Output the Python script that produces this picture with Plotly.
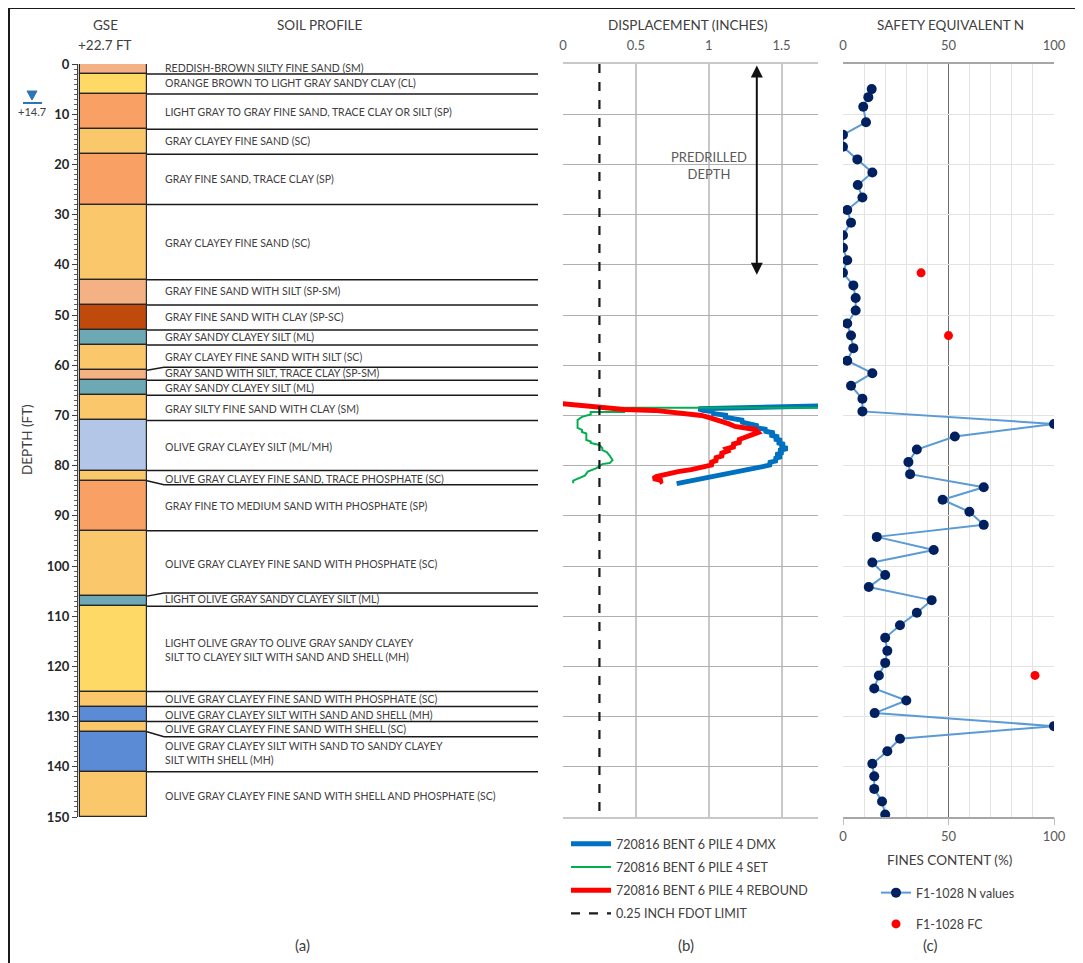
import plotly.graph_objects as go

# page body has an 8px margin: the figure is sized so that reference pixel coords map directly
OFF = 8
W, H = 1083 - OFF, 963 - OFF
def px(x): return (x - OFF) / W
def py(y): return 1 - (y - OFF) / H

# ---------------- DATA ----------------
layer_tops = [0, 2, 6, 13, 18, 28, 43, 48, 53, 56, 61, 63, 66, 71, 81, 83, 93, 106, 108, 125, 128, 131, 133, 141]
layer_bottoms = layer_tops[1:] + [150]
layer_colors = ["#F4B183", "#FFD966", "#F9A065", "#FAC76B", "#F9A065", "#FAC76B", "#F4B183", "#C04A0C",
                "#6DA9B5", "#FAC76B", "#F4B183", "#6DA9B5", "#FAC76B", "#B4C6E7", "#FAC76B", "#F9A065",
                "#FAC76B", "#6DA9B5", "#FFD966", "#FAC76B", "#5B8BD5", "#FAC76B", "#5B8BD5", "#FAC76B"]
line_depths = [2, 6, 13, 18, 28, 43, 48, 53, 56, 60.4, 63, 66, 71, 81, 83.8, 93, 105.4, 108, 125, 128, 131, 134, 141]
layer_labels = [
    "REDDISH-BROWN SILTY FINE SAND (SM)",
    "ORANGE BROWN TO LIGHT GRAY SANDY CLAY (CL)",
    "LIGHT GRAY TO GRAY FINE SAND, TRACE CLAY OR SILT (SP)",
    "GRAY CLAYEY FINE SAND (SC)",
    "GRAY FINE SAND, TRACE CLAY (SP)",
    "GRAY CLAYEY FINE SAND (SC)",
    "GRAY FINE SAND WITH SILT (SP-SM)",
    "GRAY FINE SAND WITH CLAY (SP-SC)",
    "GRAY SANDY CLAYEY SILT (ML)",
    "GRAY CLAYEY FINE SAND WITH SILT (SC)",
    "GRAY SAND WITH SILT, TRACE CLAY (SP-SM)",
    "GRAY SANDY CLAYEY SILT (ML)",
    "GRAY SILTY FINE SAND WITH CLAY (SM)",
    "OLIVE GRAY CLAYEY SILT (ML/MH)",
    "OLIVE GRAY CLAYEY FINE SAND, TRACE PHOSPHATE (SC)",
    "GRAY FINE TO MEDIUM SAND WITH PHOSPHATE (SP)",
    "OLIVE GRAY CLAYEY FINE SAND WITH PHOSPHATE (SC)",
    "LIGHT OLIVE GRAY SANDY CLAYEY SILT (ML)",
    "LIGHT OLIVE GRAY TO OLIVE GRAY SANDY CLAYEY<br>SILT TO CLAYEY SILT WITH SAND AND SHELL (MH)",
    "OLIVE GRAY CLAYEY FINE SAND WITH PHOSPHATE (SC)",
    "OLIVE GRAY CLAYEY SILT WITH SAND AND SHELL (MH)",
    "OLIVE GRAY CLAYEY FINE SAND WITH SHELL (SC)",
    "OLIVE GRAY CLAYEY SILT WITH SAND TO SANDY CLAYEY<br>SILT WITH SHELL (MH)",
    "OLIVE GRAY CLAYEY FINE SAND WITH SHELL AND PHOSPHATE (SC)",
]
label_depths = [0.8, 3.8, 9.6, 15.4, 22.9, 35.7, 45.2, 50.4, 54.4, 58.4, 61.5, 64.5, 68.7, 76.3, 82.7,
                88.0, 99.6, 106.6, 116.7, 126.5, 129.7, 132.5, 137.3, 145.8]

dmx_disp = [1.80, 1.20, 0.93, 0.96, 1.04, 1.02, 1.13, 1.10, 1.20, 1.24, 1.22, 1.30, 1.34, 1.31, 1.40, 1.38,
            1.45, 1.42, 1.48, 1.45, 1.50, 1.47, 1.52, 1.49, 1.54, 1.48, 1.51, 1.46, 1.50, 1.45, 1.47, 1.41,
            1.43, 1.37, 1.30, 1.22, 1.15, 1.08, 1.00, 0.93, 0.86, 0.80, 0.78]
dmx_depth = [68.1, 68.4, 68.7, 69.0, 69.3, 69.6, 70.0, 70.3, 70.7, 71.0, 71.3, 71.7, 72.1, 72.4, 72.8, 73.1,
             73.5, 73.9, 74.3, 74.7, 75.0, 75.4, 75.8, 76.2, 76.6, 77.0, 77.4, 77.8, 78.2, 78.6, 79.0, 79.4,
             79.8, 80.2, 80.6, 81.0, 81.3, 81.7, 82.1, 82.5, 82.9, 83.3, 83.6]

set_disp = [1.80, 0.42, 0.42, 0.19, 0.19, 0.13, 0.10, 0.10, 0.13, 0.13, 0.16, 0.16, 0.19, 0.19, 0.25, 0.27,
            0.27, 0.30, 0.32, 0.34, 0.32, 0.27, 0.23, 0.17, 0.15, 0.11, 0.07, 0.07]
set_depth = [68.5, 68.5, 69.3, 69.3, 69.8, 70.3, 70.9, 72.5, 72.9, 73.3, 73.6, 74.9, 75.2, 75.5, 75.9, 76.5,
             76.9, 77.3, 78.0, 78.9, 79.5, 79.7, 80.5, 81.2, 82.0, 82.5, 83.0, 83.5]

reb_disp = [-0.06, 0.20, 0.42, 0.63, 0.75, 0.86, 0.95, 1.00, 1.05, 1.09, 1.14, 1.18, 1.25, 1.32, 1.34, 1.29,
            1.24, 1.20, 1.22, 1.16, 1.18, 1.12, 1.13, 1.08, 1.10, 1.04, 1.06, 1.01, 1.03, 0.96, 0.88, 0.79,
            0.70, 0.64, 0.62, 0.68, 0.66]
reb_depth = [67.5, 68.3, 68.8, 69.0, 69.3, 69.6, 70.0, 70.4, 70.8, 71.2, 71.7, 72.2, 72.5, 72.8, 73.4, 74.0,
             74.5, 74.9, 75.3, 75.8, 76.2, 76.7, 77.1, 77.6, 78.0, 78.5, 78.9, 79.4, 79.8, 80.3, 80.8, 81.2,
             81.7, 82.2, 82.6, 83.0, 83.4]

fdot_limit = 0.25
predrill_depth = 42
predrill_x = 1.33

n_depth = [5.0, 6.6, 8.5, 11.6, 14.1, 16.5, 19.0, 21.6, 24.1, 26.6, 29.1, 31.6, 34.1, 36.6, 39.1, 41.6,
           44.1, 46.6, 49.1, 51.7, 54.1, 56.6, 59.1, 61.6, 64.1, 66.7, 69.2, 71.7, 74.2, 76.8, 79.3, 81.7,
           84.3, 86.8, 89.2, 91.8, 94.2, 96.8, 99.3, 101.8, 104.2, 106.8, 109.3, 111.8, 114.3, 116.9,
           119.3, 121.8, 124.4, 126.8, 129.3, 131.9, 134.4, 136.9, 139.4, 141.9, 144.4, 146.9, 149.5]
n_values = [13.6, 12.0, 9.6, 10.9, 0, 0, 6.8, 13.9, 7.0, 9.2, 2.0, 3.8, 0, 0, 2.0, 0,
            4.9, 6.0, 6.0, 2.0, 3.8, 4.9, 2.0, 13.9, 3.8, 9.2, 9.2, 100, 53, 35, 31, 31.8,
            66.7, 47.2, 59.9, 66.7, 16, 43, 13.9, 20, 12.2, 42, 35, 27, 20, 21,
            20, 17, 14.8, 30, 15, 100, 27, 21, 13.9, 14.8, 14.8, 18.5, 20]
fc_depth = [41.6, 54.1, 121.8]
fc_values = [37, 50, 91]

# ---------------- FIGURE ----------------
FONT = "Lato, 'Liberation Sans', Arial, sans-serif"
GRAY = "#404040"
ydom = [py(817), py(64)]

fig = go.Figure()

# soil column (x units = pixels inside panel)
thick = [b - t for t, b in zip(layer_tops, layer_bottoms)]
fig.add_trace(go.Bar(x=[35.5] * len(thick), y=thick, base=layer_tops, width=67,
                     marker=dict(color=layer_colors, line=dict(color="#262626", width=1.2)),
                     xaxis="x", yaxis="y", showlegend=False, hoverinfo="skip"))
# boundary lines
lx, ly = [], []
for tb, ld in zip(layer_bottoms[:-1], line_depths):
    if abs(tb - ld) > 0.01:
        lx += [69, 86, 460, None]
        ly += [tb, ld, ld, None]
    else:
        lx += [69, 460, None]
        ly += [tb, tb, None]
fig.add_trace(go.Scatter(x=lx, y=ly, mode="lines", line=dict(color="#1a1a1a", width=1.5),
                         xaxis="x", yaxis="y", showlegend=False, hoverinfo="skip"))

annotations = []
for lab, d in zip(layer_labels, label_depths):
    annotations.append(dict(x=85, y=d, xref="x", yref="y", text=lab, showarrow=False,
                            xanchor="left", yanchor="middle", align="left",
                            font=dict(family=FONT, size=10.5, color=GRAY)))

# displacement panel
fig.add_trace(go.Scatter(x=dmx_disp, y=dmx_depth, mode="lines", name="720816 BENT 6 PILE 4 DMX",
                         line=dict(color="#0070C0", width=5), xaxis="x2", yaxis="y2",
                         legend="legend", legendgroup="a"))
fig.add_trace(go.Scatter(x=set_disp, y=set_depth, mode="lines", name="720816 BENT 6 PILE 4 SET",
                         line=dict(color="#00B050", width=2), xaxis="x2", yaxis="y2",
                         legend="legend", legendgroup="b"))
fig.add_trace(go.Scatter(x=reb_disp, y=reb_depth, mode="lines", name="720816 BENT 6 PILE 4 REBOUND",
                         line=dict(color="#FF0000", width=5), xaxis="x2", yaxis="y2",
                         legend="legend", legendgroup="c"))
fig.add_trace(go.Scatter(x=[fdot_limit, fdot_limit], y=[0, 150], mode="lines", name="0.25 INCH FDOT LIMIT",
                         line=dict(color="#1a1a1a", width=2.2, dash="dash"), xaxis="x2", yaxis="y2",
                         legend="legend", legendgroup="d"))

# N panel
fig.add_trace(go.Scatter(x=n_values, y=n_depth, mode="lines+markers", name="F1-1028 N values",
                         line=dict(color="#5B9BD5", width=2),
                         marker=dict(color="#002060", size=10),
                         xaxis="x3", yaxis="y3", legend="legend2", legendgroup="e"))
fig.add_trace(go.Scatter(x=fc_values, y=fc_depth, mode="markers", name="F1-1028 FC",
                         marker=dict(color="#FF0000", size=9),
                         xaxis="x4", yaxis="y3", legend="legend2", legendgroup="f"))

# arrow + text
annotations.append(dict(x=predrill_x, y=predrill_depth, ax=predrill_x, ay=0, xref="x2", yref="y2",
                        axref="x2", ayref="y2", text="", showarrow=True, arrowhead=2, arrowside="end+start",
                        arrowwidth=2, arrowsize=1.2, arrowcolor="#111111"))
annotations.append(dict(x=1.0, y=20.3, xref="x2", yref="y2", text="PREDRILLED<br>DEPTH", showarrow=False,
                        font=dict(family=FONT, size=13, color="#595959"), align="center"))

# headers
def ann(x, y, text, size=13.5, color=GRAY, **kw):
    d = dict(x=px(x), y=py(y), xref="paper", yref="paper", text=text, showarrow=False,
             xanchor="center", yanchor="middle",
             font=dict(family=FONT, size=size, color=color))
    d.update(kw)
    annotations.append(d)

ann(105, 25, "GSE")
ann(105, 45, "+22.7 FT")
ann(320, 25, "SOIL PROFILE")
ann(688, 25, "DISPLACEMENT (INCHES)")
ann(950, 25, "SAFETY EQUIVALENT N")
ann(27, 440, "DEPTH (FT)", textangle=-90)
ann(32, 112, "+14.7", size=11, color="#404040")
ann(949, 860, "FINES CONTENT (%)")
ann(302, 945, "(a)", size=15)
ann(686, 945, "(b)", size=15)
ann(930, 945, "(c)", size=15)

tri = "M {},{} L {},{} L {},{} Z".format(px(27), py(91), px(37), py(91), px(32), py(100))
shapes = [
    dict(type="rect", xref="paper", yref="paper", x0=px(9), x1=px(1095), y0=py(980), y1=py(8),
         line=dict(color="#1a1a1a", width=2)),
    dict(type="line", xref="paper", yref="paper", x0=px(23), x1=px(42), y0=py(103), y1=py(103),
         line=dict(color="#2E75B6", width=2)),
    dict(type="path", xref="paper", yref="paper", path=tri, fillcolor="#2E75B6",
         line=dict(color="#2E75B6", width=1)),
]

tickf = dict(family=FONT, size=13, color="#595959")
fig.update_layout(
    width=W, height=H, margin=dict(l=0, r=0, t=0, b=0, autoexpand=False),
    paper_bgcolor="white", plot_bgcolor="rgba(0,0,0,0)",
    annotations=annotations, shapes=shapes,
    xaxis=dict(domain=[px(78), px(538)], range=[0, 460], visible=False, anchor="y", automargin=False),
    yaxis=dict(domain=ydom, range=[150, 0], anchor="x", tickvals=list(range(0, 151, 10)), automargin=False,
               ticks="outside", ticklen=5, tickwidth=1, tickcolor="#404040",
               showline=True, linecolor="#404040", linewidth=1, showgrid=False, zeroline=False,
               tickfont=dict(family=FONT, size=13, color="#262626", weight="bold"),
               minor=dict(dtick=1, ticks="outside", ticklen=3, tickcolor="#606060", showgrid=False)),
    xaxis2=dict(domain=[px(563), px(818)], range=[0, 1.75], anchor="y2", side="top", automargin=False,
                tickvals=[0, 0.5, 1, 1.5], ticktext=["0", "0.5", "1", "1.5"], tickfont=tickf,
                showgrid=True, gridcolor="#C8C8C8", gridwidth=1.5, zeroline=False,
                showline=True, mirror=True, linecolor="#C8C8C8", linewidth=1.5, ticks="",
                ticklabelstandoff=7),
    yaxis2=dict(domain=ydom, range=[150, 0], anchor="x2", showticklabels=False, dtick=10, automargin=False,
                showgrid=True, gridcolor="#B0B0B0", gridwidth=1, zeroline=False, ticks=""),
    xaxis3=dict(domain=[px(843), px(1054)], range=[0, 100], anchor="y3", side="top", automargin=False,
                tickvals=[0, 50, 100], tickfont=tickf, showgrid=True, gridcolor="#6E6E6E", gridwidth=1,
                zeroline=False, showline=True, mirror=True, linecolor="#A6A6A6", linewidth=1.5, ticks="",
                ticklabelstandoff=7,
                minor=dict(dtick=10, showgrid=True, gridcolor="#E3E3E3", gridwidth=1)),
    xaxis4=dict(domain=[px(843), px(1054)], range=[0, 100], anchor="y3", overlaying="x3", side="bottom",
                automargin=False,
                tickvals=[0, 50, 100], tickfont=tickf, showgrid=False, zeroline=False, showline=False,
                ticks="outside", ticklen=7, tickcolor="#BFBFBF"),
    yaxis3=dict(domain=ydom, range=[150, 0], anchor="x3", showticklabels=False, dtick=10, automargin=False,
                showgrid=True, gridcolor="#E3E3E3", gridwidth=1, zeroline=False, ticks=""),
    legend=dict(x=px(566), y=py(829), xanchor="left", yanchor="top", bgcolor="rgba(0,0,0,0)",
                font=dict(family=FONT, size=12.5, color=GRAY), tracegroupgap=4, itemwidth=40),
    legend2=dict(x=px(876), y=py(878), xanchor="left", yanchor="top", bgcolor="rgba(0,0,0,0)",
                 font=dict(family=FONT, size=12.5, color=GRAY), tracegroupgap=12, itemwidth=30),
    bargap=0,
)

fig.write_html("out.html")
